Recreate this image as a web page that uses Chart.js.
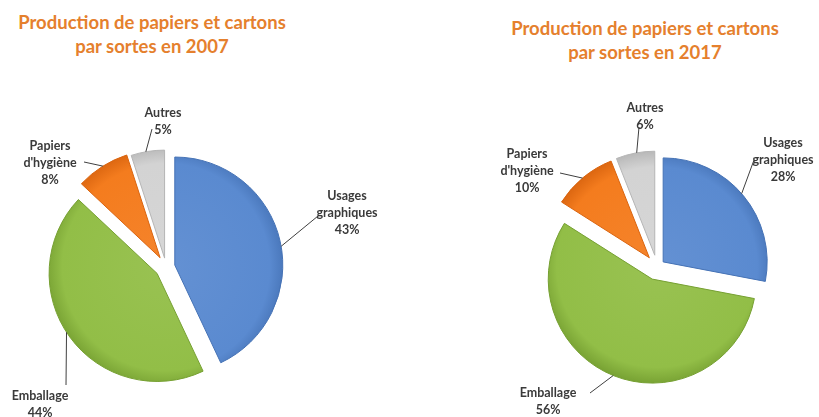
<!DOCTYPE html>
<html>
<head>
<meta charset="utf-8">
<script src="https://cdn.jsdelivr.net/npm/chart.js@4.4.0/dist/chart.umd.min.js"></script>
<style>
  body { margin: 0; background: #fff; width: 819px; height: 417px; overflow: hidden; position: relative; }
  .title { position: absolute; color: #E5802D; font: bold 18.5px Lato, sans-serif; text-align: center; line-height: 24px; }
  canvas { position: absolute; top: 0; }
</style>
</head>
<body>
<div class="title" id="t1" style="left:0;top:10px;width:304px"></div>
<div class="title" id="t2" style="left:490px;top:16px;width:310px"></div>
<canvas id="c2007" width="400" height="417" style="left:0"></canvas>
<canvas id="c2017" width="400" height="417" style="left:419px"></canvas>
<script>
const categories = ['Usages graphiques', 'Emballage', "Papiers d'hygiène", 'Autres'];
const labelLines = [['Usages', 'graphiques'], ['Emballage'], ['Papiers', "d'hygiène"], ['Autres']];
const years = ['2007', '2017'];
const values2007 = [43, 44, 8, 5];
const values2017 = [28, 56, 10, 6];
const titleText = 'Production de papiers et cartons';

const colors = ['#5A8AD0', '#92BE47', '#F47C1E', '#D3D3D3'];
const edges = ['#4572B5', '#76A032', '#D9640F', '#B5B5B5'];

// pull slices out from the centre along their middle angle
const explodePlugin = {
  id: 'explode',
  afterDatasetsUpdate(chart, args, opts) {
    chart.getDatasetMeta(0).data.forEach((arc, i) => {
      const mid = (arc.startAngle + arc.endAngle) / 2;
      const d = opts.dist[i] || 0;
      arc.x += Math.cos(mid) * d;
      arc.y += Math.sin(mid) * d;
    });
  }
};

// name + percent labels with leader lines
const labelPlugin = {
  id: 'sliceLabels',
  afterDatasetsDraw(chart, args, opts) {
    const ctx = chart.ctx;
    const data = chart.data.datasets[0].data;
    const total = data.reduce((a, b) => a + b, 0);
    const area = chart.chartArea;
    const cx = (area.left + area.right) / 2, cy = (area.top + area.bottom) / 2;
    ctx.save();
    chart.getDatasetMeta(0).data.forEach((arc, i) => {
      const p = opts.place[i];
      const a = p.a * Math.PI / 180 - Math.PI / 2;
      const ax = arc.x + Math.cos(a) * arc.outerRadius;
      const ay = arc.y + Math.sin(a) * arc.outerRadius;
      ctx.strokeStyle = '#3f3f3f';
      ctx.lineWidth = 1;
      ctx.beginPath();
      ctx.moveTo(ax, ay);
      ctx.lineTo(cx + p.e[0], cy + p.e[1]);
      ctx.stroke();
      const lines = labelLines[i].concat([Math.round(data[i] / total * 100) + '%']);
      ctx.font = 'bold 12.5px Lato, sans-serif';
      ctx.fillStyle = '#3a3a3a';
      ctx.textAlign = 'center';
      ctx.textBaseline = 'middle';
      const lh = 17;
      const top = cy + p.t[1] - (lines.length - 1) * lh / 2;
      lines.forEach((s, k) => ctx.fillText(s, cx + p.t[0], top + k * lh));
    });
    ctx.restore();
  }
};

function lighten(hex, f) {
  const n = parseInt(hex.slice(1), 16);
  const r = n >> 16, g = (n >> 8) & 255, b = n & 255;
  const m = v => Math.round(v + (255 - v) * f);
  return 'rgb(' + m(r) + ',' + m(g) + ',' + m(b) + ')';
}

function makePie(id, values, radius, padding, dist, place) {
  const shade = (c) => {
    const chart = c.chart, area = chart.chartArea;
    const base = colors[c.dataIndex];
    if (!area) return base;
    const cx = (area.left + area.right) / 2, cy = (area.top + area.bottom) / 2;
    const g = chart.ctx.createRadialGradient(cx, cy, 0, cx, cy, radius + 14);
    g.addColorStop(0, lighten(base, 0.06));
    g.addColorStop(0.85, base);
    g.addColorStop(1, edges[c.dataIndex]);
    return g;
  };
  return new Chart(document.getElementById(id), {
    type: 'pie',
    data: {
      labels: categories,
      datasets: [{
        data: values,
        backgroundColor: shade,
        borderColor: edges,
        borderWidth: 1
      }]
    },
    options: {
      responsive: false,
      animation: false,
      events: [],
      radius: radius,
      layout: { padding: padding },
      plugins: {
        legend: { display: false },
        tooltip: { enabled: false },
        explode: { dist: dist },
        sliceLabels: { place: place }
      }
    },
    plugins: [explodePlugin, labelPlugin]
  });
}

document.getElementById('t1').innerHTML = titleText + '<br>par sortes en ' + years[0];
document.getElementById('t2').innerHTML = titleText + '<br>par sortes en ' + years[1];

makePie('c2007', values2007, 108, { left: 0, right: 68, top: 117, bottom: 0 }, [9, 11, 11, 9], [
  { a: 80, t: [181, -54], e: [152, -51] },
  { a: 237, t: [-126, 137], e: [-100, 118] },
  { a: 328, t: [-116, -104], e: [-82, -105] },
  { a: 350, t: [-3, -146], e: [-14, -138] }
]);

makePie('c2017', values2017, 104, { left: 76, right: 0, top: 117, bottom: 0 }, [8, 13, 12, 12], [
  { a: 49, t: [126, -107], e: [97, -107] },
  { a: 202, t: [-109, 134], e: [-67, 126] },
  { a: 320, t: [-130, -96], e: [-97, -94] },
  { a: 350, t: [-12, -151], e: [-18, -140] }
]);
</script>
</body>
</html>
